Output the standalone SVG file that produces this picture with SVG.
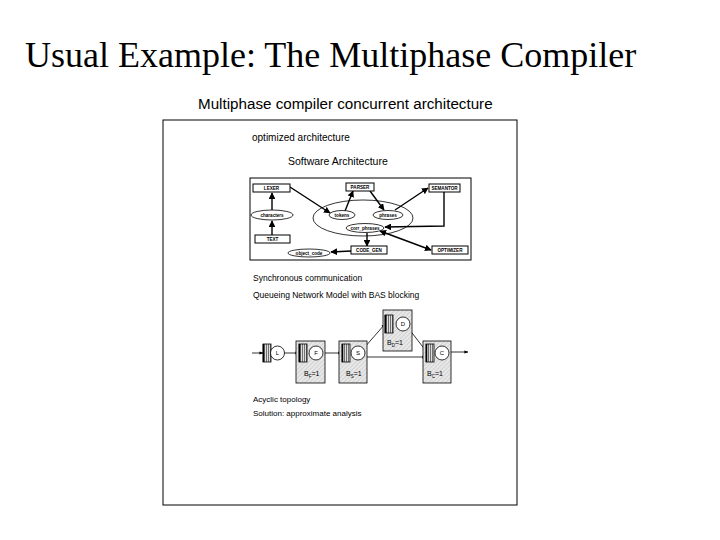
<svg xmlns="http://www.w3.org/2000/svg" width="720" height="540" viewBox="0 0 720 540">
<style>
.title{font-family:"Liberation Serif",serif;font-size:36px;fill:#000}
.sub{font-family:"Liberation Sans",Arial,sans-serif;font-size:15.2px;fill:#000}
.txt{font-family:"Liberation Sans",Arial,sans-serif;font-size:9px;fill:#000}
.lbl{font-family:"Liberation Sans",Arial,sans-serif;font-size:4.6px;font-weight:bold;fill:#000;text-anchor:middle}
.ql{font-family:"Liberation Sans",Arial,sans-serif;font-size:6px;fill:#000;text-anchor:middle}
.bl{font-family:"Liberation Sans",Arial,sans-serif;font-size:7px;fill:#000}
.box{fill:#fff;stroke:#000;stroke-width:1}
.ell{fill:#fff;stroke:#000;stroke-width:0.8}
.edge{fill:none;stroke:#000;stroke-width:1.4}
.qedge{fill:none;stroke:#000;stroke-width:0.8}
.station{fill:url(#hatch);stroke:#000;stroke-width:0.8}
.queue{fill:url(#stripes);stroke:#000;stroke-width:0.8}
.srv{fill:#fff;stroke:#000;stroke-width:0.8}
</style>
<defs>
<pattern id="hatch" width="3" height="3" patternUnits="userSpaceOnUse" patternTransform="rotate(45)">
<rect width="3" height="3" fill="#e8e8e8"/>
<line x1="0" y1="0" x2="0" y2="3" stroke="#a8a8a8" stroke-width="0.7"/>
</pattern>
<pattern id="stripes" width="2" height="4" patternUnits="userSpaceOnUse">
<rect width="2" height="4" fill="#ddd"/>
<line x1="0.5" y1="0" x2="0.5" y2="4" stroke="#555" stroke-width="0.8"/>
</pattern>
<marker id="ah" viewBox="0 0 10 10" refX="9" refY="5" markerWidth="4.8" markerHeight="4.8" orient="auto-start-reverse">
<path d="M0,0 L10,5 L0,10 z" fill="#000"/>
</marker>
<marker id="qa" viewBox="0 0 10 10" refX="9" refY="5" markerWidth="5" markerHeight="5" orient="auto">
<path d="M0,1 L10,5 L0,9 z" fill="#000"/>
</marker>
</defs>
<rect width="720" height="540" fill="#fff"/>
<text class="title" x="25" y="67">Usual Example: The Multiphase Compiler</text>
<text class="sub" x="198" y="109">Multiphase compiler concurrent architecture</text>
<rect x="163" y="120" width="354" height="385" fill="none" stroke="#000" stroke-width="1"/>
<text class="txt" x="252" y="141" style="font-size:10px">optimized architecture</text>
<text class="txt" x="288" y="165" style="font-size:10.5px">Software Architecture</text>
<rect x="250" y="178" width="221" height="82" fill="none" stroke="#000" stroke-width="1"/>

<g id="connectors">
<line class="edge" x1="272" y1="210" x2="272" y2="193" marker-end="url(#ah)"/>
<line class="edge" x1="272" y1="235" x2="272" y2="221" marker-end="url(#ah)"/>
<line class="edge" x1="290" y1="187" x2="330" y2="213" marker-end="url(#ah)"/>
<line class="edge" x1="345" y1="211" x2="353" y2="191" marker-end="url(#ah)"/>
<line class="edge" x1="370" y1="191" x2="384" y2="210" marker-end="url(#ah)"/>
<line class="edge" x1="395" y1="210" x2="428" y2="188" marker-end="url(#ah)"/>
<polyline class="edge" points="444,192 444,226 385,227" marker-end="url(#ah)"/>
<line class="edge" x1="380" y1="231" x2="431" y2="250" marker-start="url(#ah)" marker-end="url(#ah)"/>
<line class="edge" x1="367" y1="233" x2="367" y2="246" marker-end="url(#ah)"/>
<line class="edge" x1="351" y1="251" x2="331" y2="252" marker-end="url(#ah)"/>
<line class="qedge" x1="252" y1="353" x2="263" y2="353" marker-end="url(#qa)"/>
<line class="qedge" x1="284" y1="353" x2="299" y2="353" marker-end="url(#qa)"/>
<line class="qedge" x1="323" y1="353" x2="342" y2="353" marker-end="url(#qa)"/>
<line class="qedge" x1="364" y1="348" x2="385" y2="324" marker-end="url(#qa)"/>
<line class="qedge" x1="365" y1="357" x2="426" y2="357" marker-end="url(#qa)"/>
<line class="qedge" x1="409" y1="329" x2="426" y2="351" marker-end="url(#qa)"/>
<line class="qedge" x1="449" y1="352" x2="468" y2="352" marker-end="url(#qa)"/>
</g>

<ellipse cx="363" cy="218" rx="50" ry="18" fill="none" stroke="#000" stroke-width="0.8"/>

<g id="lexer"><rect class="box" x="253" y="184" width="37" height="8"/><text class="lbl" x="271.5" y="189.8">LEXER</text></g>
<g id="parser"><rect class="box" x="346" y="183" width="28" height="8"/><text class="lbl" x="360" y="188.8">PARSER</text></g>
<g id="semantor"><rect class="box" x="429" y="184" width="31" height="8"/><text class="lbl" x="444.5" y="189.8">SEMANTOR</text></g>
<g id="characters"><ellipse class="ell" cx="272" cy="215" rx="21" ry="5"/><text class="lbl" x="272" y="216.8">characters</text></g>
<g id="tokens"><ellipse class="ell" cx="342" cy="215" rx="13" ry="4.5"/><text class="lbl" x="342" y="216.8">tokens</text></g>
<g id="phrases"><ellipse class="ell" cx="388" cy="215" rx="15" ry="4.5"/><text class="lbl" x="388" y="216.8">phrases</text></g>
<g id="corr_phrases"><ellipse class="ell" cx="365" cy="228" rx="19" ry="4.5"/><text class="lbl" x="365" y="229.8">corr_phrases</text></g>
<g id="text"><rect class="box" x="255" y="235" width="35" height="8"/><text class="lbl" x="272.5" y="240.8">TEXT</text></g>
<g id="object_code"><ellipse class="ell" cx="309" cy="253" rx="21" ry="4"/><text class="lbl" x="309" y="254.8">object_code</text></g>
<g id="code_gen"><rect class="box" x="351" y="246" width="36" height="8"/><text class="lbl" x="369" y="251.8">CODE_GEN</text></g>
<g id="optimizer"><rect class="box" x="432" y="246" width="36" height="8"/><text class="lbl" x="450" y="251.8">OPTIMIZER</text></g>

<text class="txt" x="253" y="281" style="font-size:8.5px">Synchronous communication</text>
<text class="txt" x="253" y="298" style="font-size:8.5px">Queueing Network Model with BAS blocking</text>

<g id="st-L">
<rect class="queue" x="263" y="344" width="8" height="18"/>
<line x1="263.5" y1="344" x2="263.5" y2="362" stroke="#000" stroke-width="1.5"/>
<circle class="srv" cx="277.5" cy="353" r="7"/><text class="ql" x="277.5" y="355">L</text>
</g>
<g id="st-F">
<rect class="station" x="296" y="341" width="29" height="42"/>
<rect class="queue" x="299" y="344" width="8" height="18"/>
<line x1="299.5" y1="344" x2="299.5" y2="362" stroke="#000" stroke-width="1.5"/>
<circle class="srv" cx="316" cy="353" r="7"/><text class="ql" x="316" y="355">F</text>
<text class="bl" x="304" y="376">B<tspan font-size="4.5" dy="1.5">F</tspan><tspan dy="-1.5">=1</tspan></text>
</g>
<g id="st-S">
<rect class="station" x="339" y="341" width="28" height="42"/>
<rect class="queue" x="342" y="344" width="8" height="18"/>
<line x1="342.5" y1="344" x2="342.5" y2="362" stroke="#000" stroke-width="1.5"/>
<circle class="srv" cx="358" cy="353" r="7"/><text class="ql" x="358" y="355">S</text>
<text class="bl" x="346" y="376">B<tspan font-size="4.5" dy="1.5">S</tspan><tspan dy="-1.5">=1</tspan></text>
</g>
<g id="st-D">
<rect class="station" x="383" y="310" width="29" height="41"/>
<rect class="queue" x="385" y="315" width="8" height="18"/>
<line x1="385.5" y1="315" x2="385.5" y2="333" stroke="#000" stroke-width="1.5"/>
<circle class="srv" cx="403" cy="324" r="7"/><text class="ql" x="403" y="326">D</text>
<text class="bl" x="387" y="345">B<tspan font-size="4.5" dy="1.5">D</tspan><tspan dy="-1.5">=1</tspan></text>
</g>
<g id="st-C">
<rect class="station" x="423" y="341" width="28" height="42"/>
<rect class="queue" x="426" y="344" width="8" height="18"/>
<line x1="426.5" y1="344" x2="426.5" y2="362" stroke="#000" stroke-width="1.5"/>
<circle class="srv" cx="442" cy="353" r="7"/><text class="ql" x="442" y="355">C</text>
<text class="bl" x="427" y="376">B<tspan font-size="4.5" dy="1.5">C</tspan><tspan dy="-1.5">=1</tspan></text>
</g>

<text class="txt" x="253" y="402" style="font-size:8px">Acyclic topology</text>
<text class="txt" x="253" y="416" style="font-size:8px">Solution: approximate analysis</text>
</svg>
